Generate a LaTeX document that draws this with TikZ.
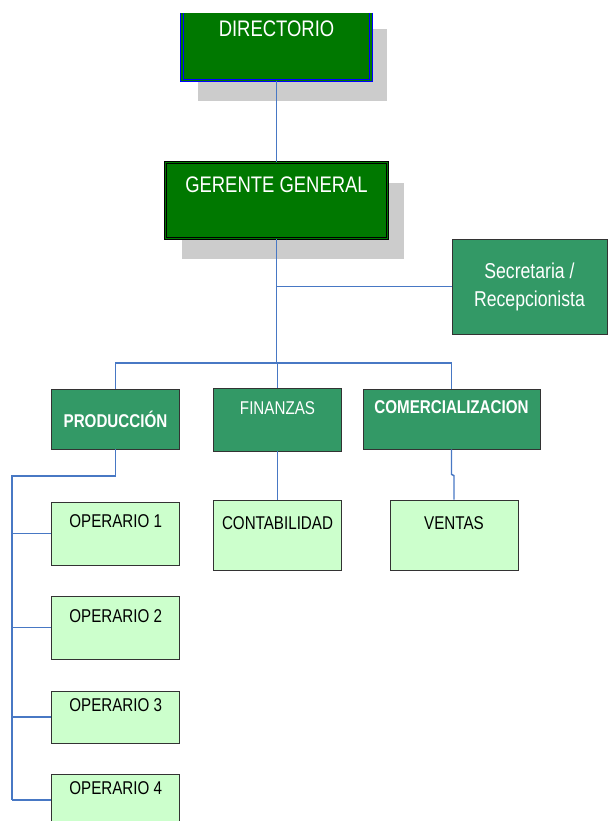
\documentclass[tikz,border=0pt]{standalone}
\usepackage{fontspec}
\setmainfont{Liberation Sans}[FakeStretch=0.82]
\usetikzlibrary{shadows}
\definecolor{darkgreen}{RGB}{0,120,0}
\definecolor{midgreen}{RGB}{51,153,102}
\definecolor{lightgreen}{RGB}{204,255,204}
\definecolor{linkblue}{RGB}{72,120,196}
\begin{document}
\begin{tikzpicture}[x=1pt,y=-1pt,
  topbox/.style={draw=#1,double=darkgreen,double distance=1.6pt,line width=0.9pt,
    fill=darkgreen,text=white,inner sep=0pt,font=\fontsize{22.5}{27}\selectfont,
    drop shadow={shadow xshift=16pt,shadow yshift=-20.5pt,fill=black!20,opacity=1}},
  midbox/.style={draw=black!80,line width=0.8pt,fill=midgreen,text=white,
    inner sep=0pt,minimum width=128pt,font=\fontsize{18.5}{22}\selectfont},
  lowbox/.style={draw=black!80,line width=0.8pt,fill=lightgreen,text=black,
    inner sep=0pt,minimum width=128pt,font=\fontsize{18.5}{22}\selectfont},
  link/.style={draw=linkblue,line width=1.4pt}]
\useasboundingbox (0,0) rectangle (609,821);
\clip (0,14) rectangle (609,821);
% top of the chart
\node[topbox=blue,minimum width=189pt,text height=28.4pt,text depth=43.4pt] (dir) at (276.5,44.5) {DIRECTORIO};
\node[topbox=black,minimum width=222pt,text height=30.4pt,text depth=45.4pt] (ger) at (276.5,200.5) {GERENTE GENERAL};
\node[midbox,minimum width=155pt,minimum height=95pt,align=center,
  font=\fontsize{21.5}{28}\selectfont] (sec) at (529.5,286.5) {Secretaria /\\Recepcionista};
% departments
\node[midbox,minimum height=60pt,font=\fontsize{18.5}{22}\selectfont\bfseries] (prod) at (115.5,419) {PRODUCCIÓN};
\node[midbox,text height=26pt,text depth=37pt] (fin) at (277.5,419.5) {FINANZAS};
\node[midbox,minimum width=177pt,text height=24pt,text depth=36pt,
  font=\fontsize{18.5}{22}\selectfont\bfseries] (com) at (451.5,419) {COMERCIALIZACION};
% lower level
\node[lowbox,text height=25pt,text depth=38pt] (o1) at (115.75,533.5) {OPERARIO 1};
\node[lowbox,text height=26pt,text depth=37pt] (o2) at (115.75,627.5) {OPERARIO 2};
\node[lowbox,text height=20pt,text depth=32pt] (o3) at (115.75,717) {OPERARIO 3};
\node[lowbox,text height=20pt,text depth=32pt] (o4) at (115.75,800) {OPERARIO 4};
\node[lowbox,text height=29pt,text depth=41pt] (cont) at (277.5,535) {CONTABILIDAD};
\node[lowbox,text height=29pt,text depth=41pt] (ven) at (454,535) {VENTAS};
% connectors
\coordinate (hub) at (276.5,363);
\coordinate (spine) at (12,476);
\draw[link] (dir.south) -- (ger.north);
\draw[link] (ger.south) -- (hub);
\draw[link] (ger.south |- sec.west) -- (sec.west);
\draw[link] (prod.north) |- (hub) -| (com.north);
\draw[link] (fin.north) -- (fin.north |- hub);
\draw[link] (prod.south) |- (spine) -- (spine |- o4.west);
\foreach \i in {1,...,4}
  \draw[link] (spine |- o\i.west) -- (o\i.west);
\draw[link] (fin.south) -- (cont.north);
\draw[link] (com.south) -- ++(0,25) -- ([yshift=24pt]ven.north) -- (ven.north);
\end{tikzpicture}
\end{document}
